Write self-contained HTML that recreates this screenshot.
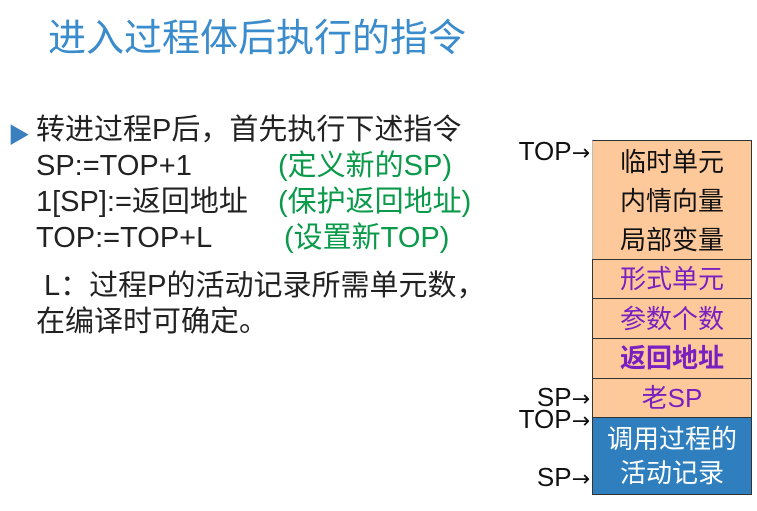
<!DOCTYPE html>
<html><head><meta charset="utf-8"><style>
body{margin:0;width:757px;height:511px;background:#fff;position:relative;overflow:hidden;font-family:"Liberation Sans","Noto Sans CJK SC",sans-serif;}
.a{position:absolute;white-space:nowrap;}
.t{font-size:29px;color:#222;line-height:36px;}
.g{color:#0a9a4a;}
.cell{position:absolute;left:592px;width:160px;background:#fdc89a;border:1px solid #333;box-sizing:border-box;text-align:center;font-size:26px;color:#7a1fc0;}
.lab{position:absolute;font-size:26px;color:#111;text-align:right;width:90px;left:500px;}
.ar{font-family:"DejaVu Sans",sans-serif;font-size:22px;}
</style></head><body>
<div class="a" style="left:48px;top:7px;font-size:38px;color:#3a8ccc;">进入过程体后执行的指令</div>
<div class="a" style="left:8px;top:118px;font-size:22px;color:#3a7fc0;">▶</div>
<div class="a t" style="left:36px;top:112px;">转进过程P后，首先执行下述指令</div>
<div class="a t" style="left:36px;top:148px;">SP:=TOP+1</div><div class="a t g" style="left:278px;top:148px;">(定义新的SP)</div>
<div class="a t" style="left:36px;top:184px;">1[SP]:=返回地址</div><div class="a t g" style="left:278px;top:184px;">(保护返回地址)</div>
<div class="a t" style="left:36px;top:220px;">TOP:=TOP+L</div><div class="a t g" style="left:284px;top:220px;">(设置新TOP)</div>
<div class="a t" style="left:36px;top:268px;">&nbsp;L：过程P的活动记录所需单元数，</div>
<div class="a t" style="left:36px;top:304px;">在编译时可确定。</div>

<div class="cell" style="top:140px;height:121px;color:#111;line-height:39px;padding-top:2px;border-bottom:none;border-left-color:#bbb;">临时单元<br>内情向量<br>局部变量</div>
<div class="cell" style="top:259px;height:41px;line-height:38px;">形式单元</div>
<div class="cell" style="top:298px;height:42px;line-height:40px;">参数个数</div>
<div class="cell" style="top:338px;height:41px;line-height:39px;font-weight:bold;">返回地址</div>
<div class="cell" style="top:378px;height:40px;line-height:38px;">老SP</div>
<div class="cell" style="top:417px;height:78px;background:#2f7fbf;color:#fff;line-height:34px;padding-top:4px;">调用过程的<br>活动记录</div>

<div class="lab" style="top:136px;">TOP<span class="ar">→</span></div>
<div class="lab" style="top:382px;">SP<span class="ar">→</span></div>
<div class="lab" style="top:404px;">TOP<span class="ar">→</span></div>
<div class="lab" style="top:462px;">SP<span class="ar">→</span></div>
</body></html>
